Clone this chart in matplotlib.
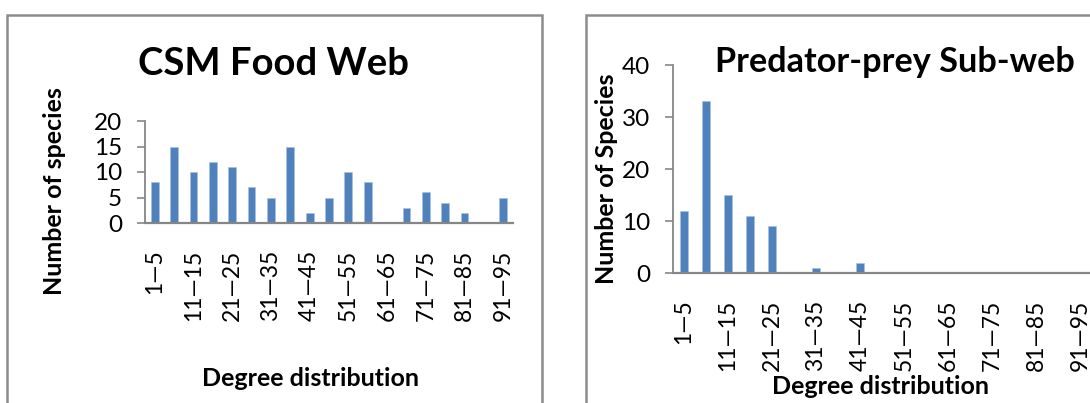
import matplotlib
matplotlib.use("Agg")
import matplotlib.pyplot as plt
from matplotlib.patches import Rectangle

plt.rcParams['font.family'] = ['Lato', 'DejaVu Sans']

# degree classes, 1-5 up to 91-95
bins = ["%d\u2014%d" % (lo, lo + 4) for lo in range(1, 96, 5)]
csm_counts = [8, 15, 10, 12, 11, 7, 5, 15, 2, 5, 10, 8, 0, 3, 6, 4, 2, 0, 5]
predprey_counts = [12, 33, 15, 11, 9, 0, 1, 0, 2, 0, 0, 0, 0, 0, 0, 0, 0, 0, 0]

W, H = 1090, 403
fig = plt.figure(figsize=(W / 100, H / 100), dpi=100)

BAR = '#4F81BD'
AXC = '#868686'
FRAME = '#8C8C8C'


def px_axes(x0, x1, ybot, ytop):
    return fig.add_axes([x0 / W, (H - ybot) / H, (x1 - x0) / W, (ybot - ytop) / H])


def frame(x0, y0, x1, y1):
    fig.patches.append(Rectangle((x0 / W, (H - y1) / H), (x1 - x0) / W, (y1 - y0) / H,
                                 transform=fig.transFigure, fill=False,
                                 edgecolor=FRAME, linewidth=1.8, zorder=0))


def bar_chart(ax, counts, ymax, ystep):
    xs = list(range(len(bins)))
    ax.bar(xs, counts, width=0.4, color=BAR, edgecolor='#A7C0DE', linewidth=0.4)
    ax.set_xlim(-0.5, len(bins) - 0.5)
    ax.set_ylim(0, ymax)
    ax.set_yticks(range(0, ymax + 1, ystep))
    ax.set_xticks(xs)
    ax.set_xticklabels([b if i % 2 == 0 else "" for i, b in enumerate(bins)], rotation=90)
    for s in ('top', 'right'):
        ax.spines[s].set_visible(False)
    ax.spines['left'].set_color(AXC)
    ax.spines['left'].set_linewidth(1.3)
    ax.spines['bottom'].set_color(AXC)
    ax.spines['bottom'].set_linewidth(1.6)
    ax.tick_params(axis='y', direction='out', length=5.5, width=1.2, color=AXC,
                   pad=11, labelsize=17.5)
    ax.tick_params(axis='x', length=0, pad=19, labelsize=16.5)
    for lbl in ax.get_xticklabels():
        lbl.set_verticalalignment('top')
    ax.patch.set_alpha(0)


# chart borders
frame(7, 15, 542, 420)
frame(586, 15, 1110, 420)

# left: whole food web
ax1 = px_axes(145, 513, 223, 121)
bar_chart(ax1, csm_counts, 20, 5)
fig.text(274 / W, (H - 64) / H, "CSM Food Web", ha='center', va='center',
         fontsize=27.5, fontweight='bold')
fig.text(54 / W, (H - 191) / H, "Number of species", ha='center', va='center',
         rotation=90, fontsize=18, fontweight='bold')
fig.text(311 / W, (H - 378) / H, "Degree distribution", ha='center', va='center',
         fontsize=18, fontweight='bold')

# right: predator-prey links only
ax2 = px_axes(673, 1091, 273, 65)
bar_chart(ax2, predprey_counts, 40, 10)
fig.text(895 / W, (H - 62) / H, "Predator-prey Sub-web", ha='center', va='center',
         fontsize=24.7, fontweight='bold')
fig.text(607 / W, (H - 179) / H, "Number of Species", ha='center', va='center',
         rotation=90, fontsize=18, fontweight='bold')
fig.text(881 / W, (H - 386) / H, "Degree distribution", ha='center', va='center',
         fontsize=18, fontweight='bold')

fig.savefig("out.png", dpi=100)
